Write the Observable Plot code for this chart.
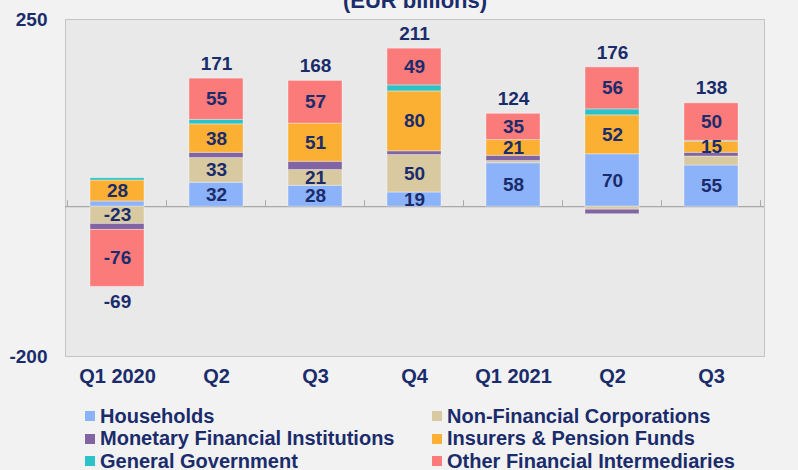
<!DOCTYPE html>
<html>
<head>
<meta charset="utf-8">
<script src="https://cdn.jsdelivr.net/npm/d3@7"></script>
<script src="https://cdn.jsdelivr.net/npm/@observablehq/plot@0.6"></script>
<style>
  html, body { margin: 0; padding: 0; background: #f2f2f2; }
  body { position: relative; width: 798px; height: 470px; overflow: hidden;
         font-family: "Liberation Sans", Arial, sans-serif; color: #1a2c6b; }
  #chart { position: absolute; left: 0; top: 0; }
  #legend { position: absolute; left: 85px; top: 405px; display: grid;
            grid-template-columns: 347px auto; grid-auto-rows: 22.5px;
            font-weight: bold; font-size: 20px; }
  #legend .item { display: flex; align-items: center; white-space: nowrap; }
  #legend .sw { width: 10px; height: 10px; margin-right: 5px; flex: none; }
</style>
</head>
<body>
<div id="chart"></div>
<div id="legend"></div>
<script>
// Quarterly net flows by sector (EUR billions)
const quarters = ["2020Q1", "2020Q2", "2020Q3", "2020Q4", "2021Q1", "2021Q2", "2021Q3"];
const quarterLabels = ["Q1 2020", "Q2", "Q3", "Q4", "Q1 2021", "Q2", "Q3"];

const sectors = [
  "Households",
  "Non-Financial Corporations",
  "Monetary Financial Institutions",
  "Insurers & Pension Funds",
  "General Government",
  "Other Financial Intermediaries"
];
const sectorColors = ["#8cb3f9", "#d8c9a0", "#8165a3", "#fbb034", "#2bc3c8", "#fb7a7a"];

const households         = [7, 32, 28, 19, 58, 70, 55];
const nonFinancialCorps  = [-23, 33, 21, 50, 3, -4, 12];
const monetaryFinancial  = [-8, 7, 11, 5, 7, -6, 5];
const insurersPension    = [28, 38, 51, 80, 21, 52, 15];
const generalGovernment  = [3, 6, 0, 8, 0, 8, 1];
const otherFinancial     = [-76, 55, 57, 49, 35, 56, 50];

const yTicks = [250, -200];

const seriesValues = [households, nonFinancialCorps, monetaryFinancial,
                      insurersPension, generalGovernment, otherFinancial];

const rows = [];
sectors.forEach((s, i) => {
  quarters.forEach((q, j) => rows.push({quarter: q, sector: s, value: seriesValues[i][j]}));
});

const totals = quarters.map((q, j) => {
  const vals = seriesValues.map(v => v[j]);
  return {
    quarter: q,
    total: d3.sum(vals),
    top: d3.sum(vals.filter(v => v > 0)),
    bottom: d3.sum(vals.filter(v => v < 0))
  };
});

const labelOf = new Map(quarters.map((q, i) => [q, quarterLabels[i]]));
const ink = "#1a2c6b";

const chart = Plot.plot({
  width: 798,
  height: 395,
  marginTop: 19,
  marginLeft: 65,
  marginRight: 34,
  marginBottom: 39,
  style: {
    fontFamily: "'Liberation Sans', Arial, sans-serif",
    fontSize: "20px",
    fontWeight: "bold",
    color: ink,
    background: "transparent",
    overflow: "visible"
  },
  x: {
    domain: quarters,
    paddingInner: 0.45,
    paddingOuter: 0.225,
    tickSize: 0,
    tickPadding: 12,
    tickFormat: q => labelOf.get(q),
    label: null
  },
  y: {
    domain: [-200, 250],
    ticks: yTicks,
    tickSize: 0,
    tickPadding: 18,
    tickFormat: d => String(d),
    label: null
  },
  color: {domain: sectors, range: sectorColors},
  marks: [
    Plot.frame({fill: "#e9e9e9", stroke: "#c4c4c4"}),
    Plot.ruleY([0], {stroke: "#a9a9a9", strokeWidth: 1.2}),
    Plot.barY(rows, {
      x: "quarter", y: "value", fill: "sector", z: "sector",
      stroke: "#ffffff", strokeOpacity: 0.35, strokeWidth: 1
    }),
    Plot.text(rows, Plot.stackY({
      x: "quarter", y: "value", z: "sector",
      text: d => Math.abs(d.value) >= 15 ? String(d.value) : "",
      fill: ink, fontSize: 19, fontWeight: "bold"
    })),
    Plot.text(totals.filter(d => d.total >= 0), {
      x: "quarter", y: "top", text: d => String(d.total),
      dy: -15, fill: ink, fontSize: 19, fontWeight: "bold"
    }),
    Plot.text(totals.filter(d => d.total < 0), {
      x: "quarter", y: "bottom", text: d => String(d.total),
      dy: 15, fill: ink, fontSize: 19, fontWeight: "bold"
    }),
    Plot.text(["(EUR billions)"], {
      frameAnchor: "top", dy: -27, fill: ink, fontSize: 22, fontWeight: "bold"
    })
  ]
});

document.getElementById("chart").appendChild(chart);

// y-axis labels slightly smaller than the category labels
d3.select(chart).selectAll("g[aria-label='y-axis tick label'] text, g[aria-label='y-axis'] text")
  .style("font-size", "19px");

// small upward ticks on the zero line at every category boundary
const xs = chart.scale("x");
const ys = chart.scale("y");
const y0 = ys.apply(0);
const half = (xs.step - xs.bandwidth) / 2;
const bounds = quarters.map(q => xs.apply(q) - half);
bounds.push(xs.apply(quarters[quarters.length - 1]) + xs.bandwidth + half);
d3.select(chart).append("g")
  .attr("stroke", "#a9a9a9")
  .selectAll("line")
  .data(bounds)
  .join("line")
  .attr("x1", d => d).attr("x2", d => d)
  .attr("y1", y0).attr("y2", y0 - 6);

// legend, two columns in series order
const legend = d3.select("#legend");
sectors.forEach((s, i) => {
  const item = legend.append("div").attr("class", "item");
  item.append("span").attr("class", "sw").style("background", sectorColors[i]);
  item.append("span").text(s);
});
</script>
</body>
</html>
